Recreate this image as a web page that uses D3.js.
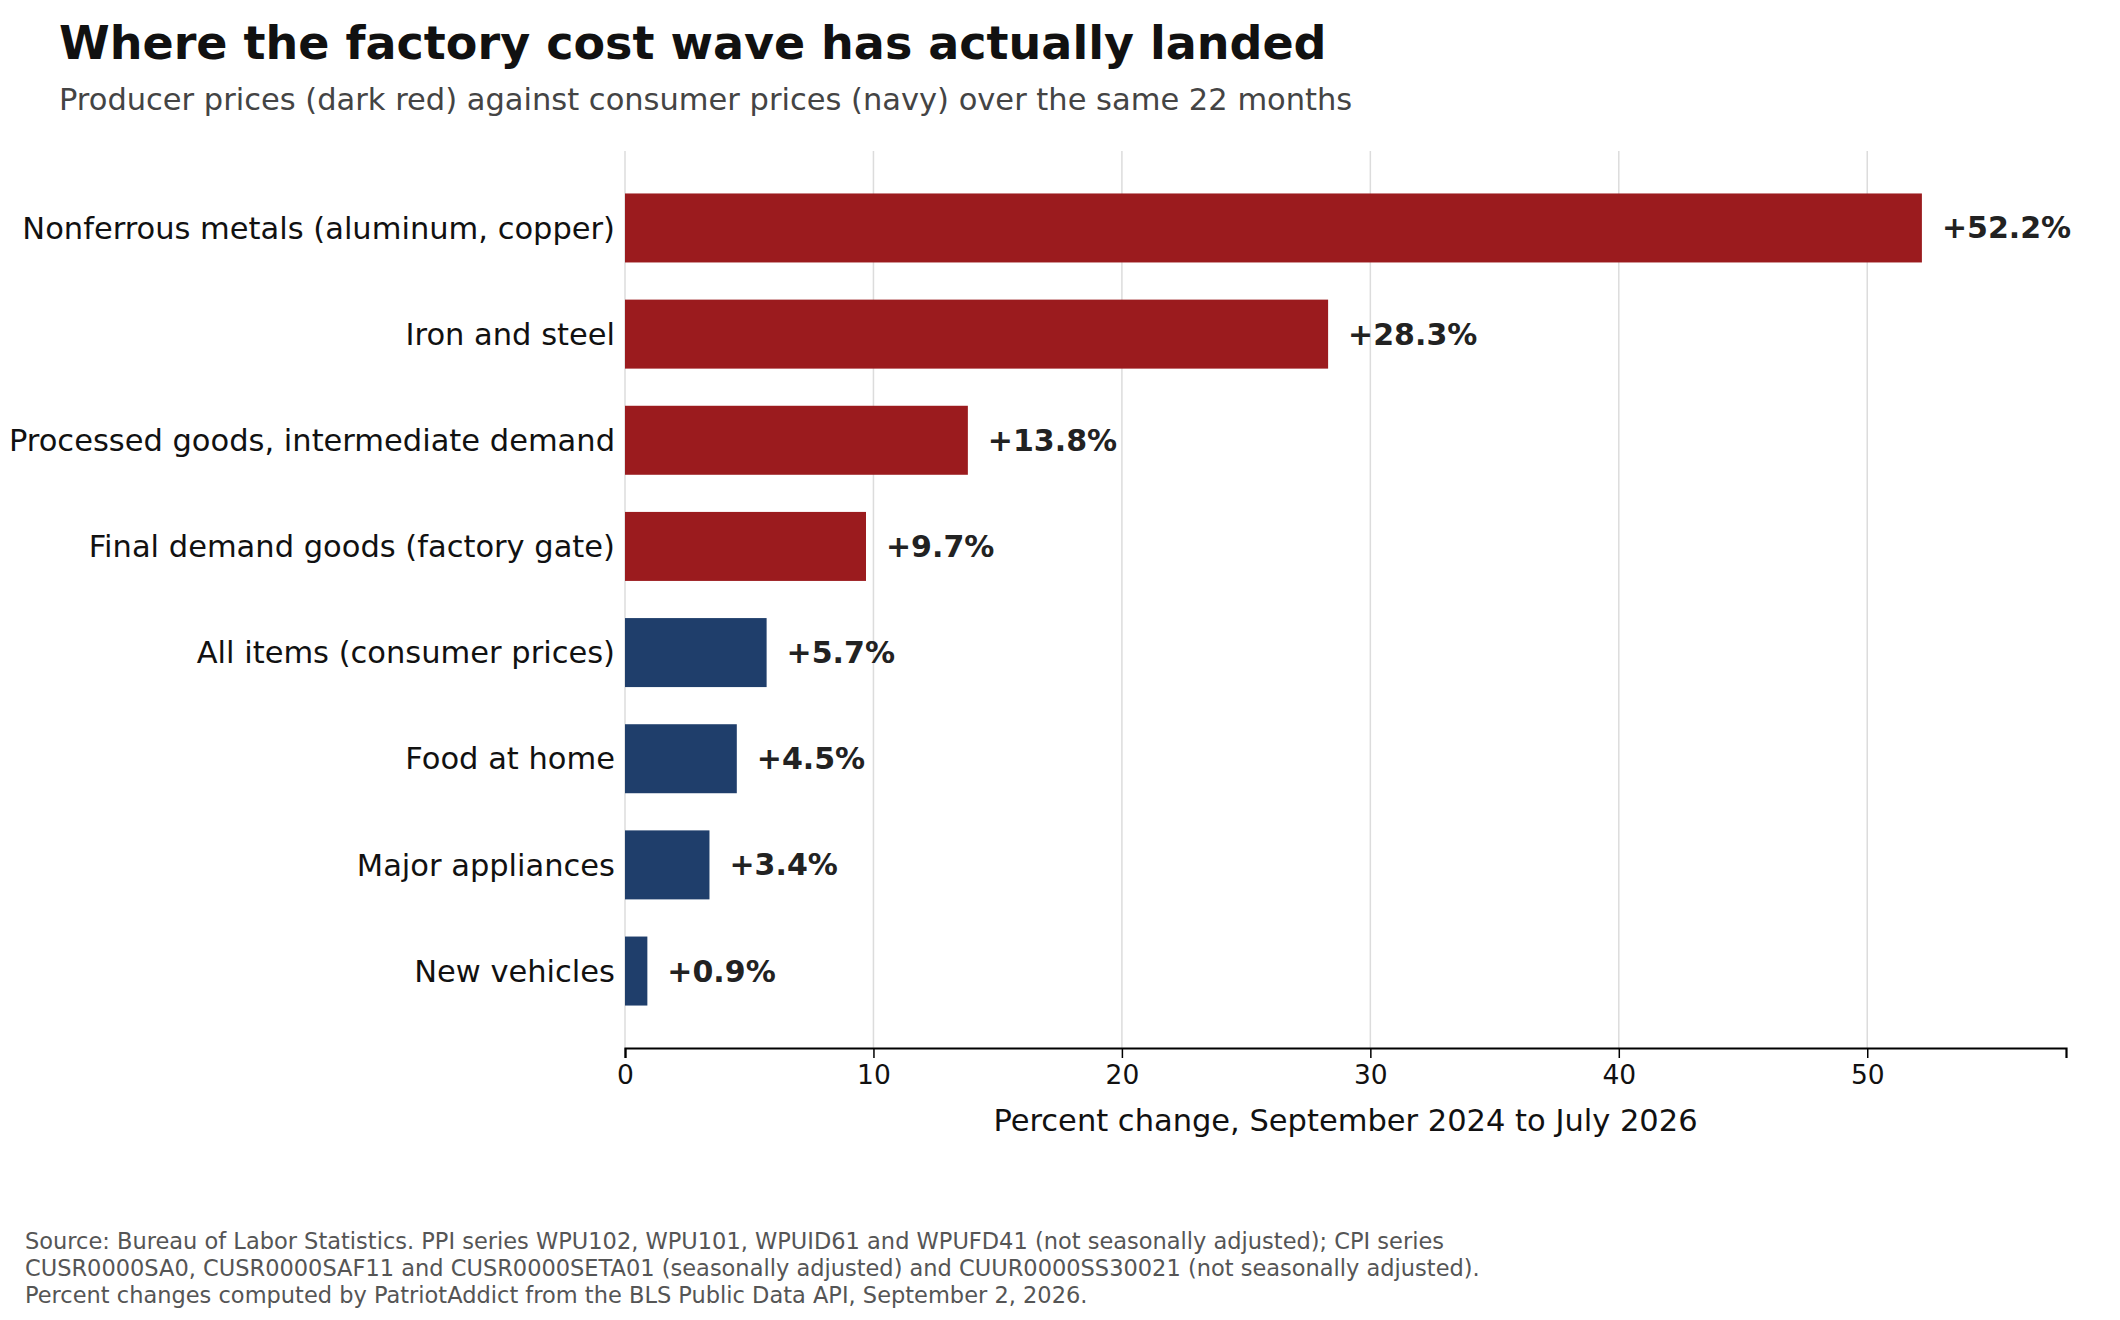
<!DOCTYPE html>
<html><head><meta charset="utf-8">
<script src="https://cdn.jsdelivr.net/npm/d3@7"></script>
<style>body{margin:0;background:#fff}text{font-family:"DejaVu Sans",sans-serif}</style>
</head><body><svg id="c" width="2120" height="1320"></svg>
<script>
const categories=["Nonferrous metals (aluminum, copper)","Iron and steel","Processed goods, intermediate demand","Final demand goods (factory gate)","All items (consumer prices)","Food at home","Major appliances","New vehicles"];
const values=[52.2,28.3,13.8,9.7,5.7,4.5,3.4,0.9];
const groups=["ppi","ppi","ppi","ppi","cpi","cpi","cpi","cpi"];
const ticks=[0,10,20,30,40,50];
const colors={ppi:"#9b1b1e",cpi:"#1f3e6b"};
const svg=d3.select("#c");
const L=625,R=2066,T=151,B=1048;
const x=d3.scaleLinear().domain([0,58]).range([L,R]);
const y=d3.scaleBand().domain(categories).range([T,B]).paddingInner(0.35).paddingOuter(0.40);
svg.append("g").selectAll("line").data(ticks).join("line")
 .attr("x1",d=>x(d)).attr("x2",d=>x(d)).attr("y1",T).attr("y2",B).attr("stroke","#dcdcdc").attr("stroke-width",1.5);
svg.append("g").selectAll("rect").data(values).join("rect")
 .attr("x",x(0)).attr("y",(d,i)=>y(categories[i])).attr("height",y.bandwidth())
 .attr("width",d=>x(d)-x(0)).attr("fill",(d,i)=>colors[groups[i]]);
svg.append("g").selectAll("text").data(values).join("text")
 .attr("x",d=>x(d)+20).attr("y",(d,i)=>y(categories[i])+y.bandwidth()/2).attr("dy","0.35em")
 .attr("font-size",30).attr("font-weight","bold").attr("fill","#222").text(d=>"+"+d.toFixed(1)+"%");
svg.append("g").selectAll("text").data(categories).join("text")
 .attr("x",L-10).attr("y",d=>y(d)+y.bandwidth()/2).attr("dy","0.35em").attr("text-anchor","end")
 .attr("font-size",30.5).attr("fill","#111").text(d=>d);
const ax=svg.append("g").attr("transform",`translate(0,${B})`).call(d3.axisBottom(x).tickValues(ticks).tickSize(10).tickPadding(7));
ax.select(".domain").attr("stroke","#000").attr("stroke-width",2.2);
ax.selectAll(".tick line").attr("stroke","#000").attr("stroke-width",1.5);
ax.selectAll(".tick text").attr("font-size",26.5).attr("font-family","DejaVu Sans").attr("fill","#111");
svg.append("text").attr("x",(L+R)/2).attr("y",1131).attr("text-anchor","middle").attr("font-size",30.5).attr("fill","#111").text("Percent change, September 2024 to July 2026");
svg.append("text").attr("x",59).attr("y",59).attr("font-size",46).attr("font-weight","bold").attr("fill","#111").text("Where the factory cost wave has actually landed");
svg.append("text").attr("x",59).attr("y",110).attr("font-size",30.5).attr("fill","#444").text("Producer prices (dark red) against consumer prices (navy) over the same 22 months");
const foot=["Source: Bureau of Labor Statistics. PPI series WPU102, WPU101, WPUID61 and WPUFD41 (not seasonally adjusted); CPI series","CUSR0000SA0, CUSR0000SAF11 and CUSR0000SETA01 (seasonally adjusted) and CUUR0000SS30021 (not seasonally adjusted).","Percent changes computed by PatriotAddict from the BLS Public Data API, September 2, 2026."];
svg.append("g").selectAll("text").data(foot).join("text").attr("x",25).attr("y",(d,i)=>1249+i*27).attr("font-size",22.5).attr("fill","#555").text(d=>d);
</script></body></html>
